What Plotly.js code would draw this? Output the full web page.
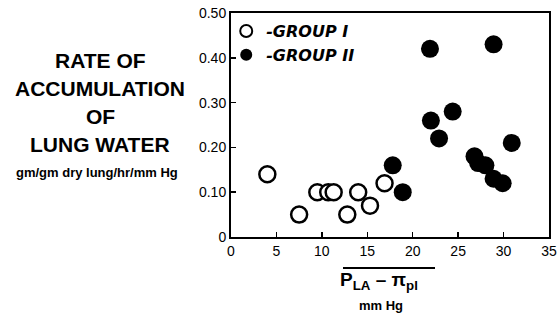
<!DOCTYPE html>
<html>
<head>
<meta charset="utf-8">
<script src="https://cdn.plot.ly/plotly-3.0.1.min.js"></script>
<style>html,body{margin:0;padding:0;background:#fff;}#chart{width:559px;height:318px;}</style>
</head>
<body>
<div id="chart"></div>
<script>
const groupI_x = [4, 7.5, 9.5, 10.7, 11.3, 12.8, 14.0, 15.3, 16.9];
const groupI_y = [0.14, 0.05, 0.10, 0.10, 0.10, 0.05, 0.10, 0.07, 0.12];
const groupII_x = [17.8, 18.9, 21.9, 22.0, 22.9, 24.4, 26.8, 27.2, 28.0, 28.9, 29.9, 30.9, 28.9];
const groupII_y = [0.16, 0.10, 0.42, 0.26, 0.22, 0.28, 0.18, 0.165, 0.16, 0.13, 0.12, 0.21, 0.43];
const xTicks = [0, 5, 10, 15, 20, 25, 30, 35];
const yTickVals = [0, 0.1, 0.2, 0.3, 0.4, 0.5];
const yTickText = ["0", "0.10", "0.20", "0.30", "0.40", "0.50"];
const yTitleLines = ["RATE OF", "ACCUMULATION", "OF", "LUNG WATER"];
const yUnits = "gm/gm dry lung/hr/mm Hg";
const xTitle = "P<sub>LA</sub> \u2013 \u03C0<sub>pl</sub>";
const xUnits = "mm Hg";
const seriesNames = ["-GROUP I", "-GROUP II"];

const traces = [
  {x: groupI_x, y: groupI_y, mode: 'markers', type: 'scatter', name: seriesNames[0],
   marker: {symbol: 'circle', size: 16, color: 'white', line: {color: 'black', width: 2.5}}},
  {x: groupII_x, y: groupII_y, mode: 'markers', type: 'scatter', name: seriesNames[1],
   marker: {symbol: 'circle', size: 18, color: 'black', line: {color: 'black', width: 0}}}
];

const bold = {family: 'Liberation Sans, Arial, sans-serif', color: 'black'};
const annotations = [];
const lineY = [60, 88, 116, 144];
const titleX = (100 - 231) / 318;
yTitleLines.forEach((t, i) => {
  annotations.push({xref: 'paper', yref: 'paper', x: titleX, y: 1 - (lineY[i] - 13) / 224,
    xanchor: 'center', yanchor: 'middle', showarrow: false,
    text: '<b>' + t + '</b>', font: Object.assign({size: 21}, bold)});
});
annotations.push({xref: 'paper', yref: 'paper', x: (97 - 231) / 318, y: 1 - (172 - 13) / 224,
  xanchor: 'center', yanchor: 'middle', showarrow: false,
  text: '<b>' + yUnits + '</b>', font: Object.assign({size: 13}, bold)});
annotations.push({xref: 'paper', yref: 'paper', x: 0.465, y: 1 - (281 - 13) / 224,
  xanchor: 'center', yanchor: 'middle', showarrow: false,
  text: '<b>' + xTitle + '</b>', font: Object.assign({size: 19}, bold)});
annotations.push({xref: 'paper', yref: 'paper', x: (381 - 231) / 318, y: 1 - (305 - 13) / 224,
  xanchor: 'center', yanchor: 'middle', showarrow: false,
  text: '<b>' + xUnits + '</b>', font: Object.assign({size: 13}, bold)});

const layout = {
  width: 559, height: 318,
  margin: {l: 231, r: 10, t: 13, b: 81},
  paper_bgcolor: 'white', plot_bgcolor: 'white',
  showlegend: true,
  legend: {x: -0.015, y: 0.995, xanchor: 'left', yanchor: 'top', bgcolor: 'rgba(0,0,0,0)',
    font: {family: 'DejaVu Sans, sans-serif', size: 16, color: 'black', style: 'italic', weight: 'bold'},
    itemwidth: 30, itemsizing: 'constant', tracegroupgap: 0},
  xaxis: {range: [0, 35], tickvals: xTicks, ticktext: xTicks.map(String),
    ticks: 'inside', ticklen: 5, tickwidth: 1.5, tickcolor: 'black',
    showline: true, linecolor: 'black', linewidth: 2, mirror: true,
    showgrid: false, zeroline: false,
    tickfont: {family: 'Liberation Sans, Arial, sans-serif', size: 14, color: 'black'}},
  yaxis: {range: [0, 0.5], tickvals: yTickVals, ticktext: yTickText,
    ticks: 'inside', ticklen: 5, tickwidth: 1.5, tickcolor: 'black',
    showline: true, linecolor: 'black', linewidth: 2, mirror: true,
    showgrid: false, zeroline: false,
    tickfont: {family: 'Liberation Sans, Arial, sans-serif', size: 14, color: 'black'}},
  annotations: annotations,
  shapes: [{type: 'line', xref: 'paper', yref: 'paper',
    x0: (343 - 231) / 318, x1: (435 - 231) / 318,
    y0: 1 - (268 - 13) / 224, y1: 1 - (268 - 13) / 224,
    line: {color: 'black', width: 2}}]
};

Plotly.newPlot('chart', traces, layout, {staticPlot: true});
</script>
</body>
</html>
